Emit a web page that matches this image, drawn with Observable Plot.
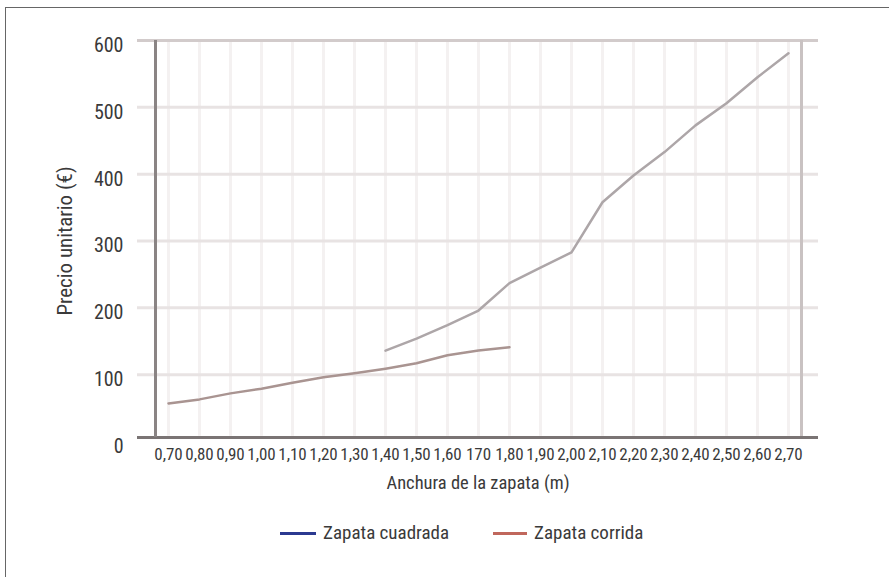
<!DOCTYPE html>
<html>
<head>
<meta charset="utf-8">
<script src="https://cdn.jsdelivr.net/npm/d3@7"></script>
<script src="https://cdn.jsdelivr.net/npm/@observablehq/plot@0.6"></script>
<style>
  html, body { margin: 0; padding: 0; background: #fff; }
  body { width: 889px; height: 577px; position: relative; overflow: hidden;
         font-family: "Liberation Sans Narrow", "Roboto Condensed", "DejaVu Sans Condensed", "Liberation Sans", sans-serif; color: #3a3a3a; }
  #box { position: absolute; left: 5px; top: 7px; right: -2px; bottom: -2px; border-left: 1px solid #666; border-top: 1px solid #666; pointer-events: none; }
  #chart svg { display: block; }
  .item { position: absolute; top: 522px; display: flex; align-items: center; font-size: 19px; white-space: nowrap; line-height: 22px; }
  .sw { display: inline-block; height: 3px; margin-right: 7px; }
</style>
</head>
<body>
<div id="chart"></div>
<div class="item" style="left:280px"><span class="sw" style="background:#2b3990;width:36px"></span>Zapata cuadrada</div>
<div class="item" style="left:493px"><span class="sw" style="background:#c0675c;width:34px"></span>Zapata corrida</div>
<div id="box"></div>
<script>
// Anchura de la zapata (m), tal como aparece en el eje
const anchos = ["0,70","0,80","0,90","1,00","1,10","1,20","1,30","1,40","1,50","1,60","170","1,80",
                "1,90","2,00","2,10","2,20","2,30","2,40","2,50","2,60","2,70"];

// Zapata cuadrada: de 1,40 a 2,70 m
const anchosCuadrada = anchos.slice(7);
const precioCuadrada = [136, 154, 174, 196, 237, 260, 283, 358, 398, 433, 473, 506, 545, 581];

// Zapata corrida: de 0,70 a 1,80 m
const anchosCorrida = anchos.slice(0, 12);
const precioCorrida = [57, 63, 72, 79, 88, 96, 102, 109, 117, 129, 136, 141];

const yTicks = [0, 100, 200, 300, 400, 500, 600];
const gridY = [100, 200, 300, 400, 500];

const font = `"Liberation Sans Narrow", "Roboto Condensed", "DejaVu Sans Condensed", "Liberation Sans", sans-serif`;

const chart = Plot.plot({
  width: 889,
  height: 510,
  marginLeft: 137,
  marginRight: 71,
  marginTop: 40,
  marginBottom: 69,
  style: { fontFamily: font, color: "#3a3a3a", background: "transparent" },
  x: { type: "point", domain: anchos, range: [150, 805] },
  y: { domain: [0, 600], range: [441, 40] },
  marks: [
    // rejilla
    Plot.ruleX(anchos, { y1: 8, y2: 600, stroke: "#f4f1f1", strokeWidth: 3 }),
    Plot.ruleY(gridY, { stroke: "#e8e3e3", strokeWidth: 3 }),
    // marco del área de trazado
    Plot.ruleY([600], { stroke: "#d2cbcb", strokeWidth: 3 }),
    Plot.ruleX([anchos[anchos.length - 1]], { y1: 6, y2: 600, dx: 13, stroke: "#c9c2c2", strokeWidth: 3 }),
    Plot.ruleY([0], { dy: -4, stroke: "#7a7474", strokeWidth: 3 }),
    Plot.ruleX([anchos[0]], { y1: 6, y2: 600, dx: -13, stroke: "#8a8484", strokeWidth: 3 }),
    // series
    Plot.line(precioCorrida, { x: (d, i) => anchosCorrida[i], y: d => d, stroke: "#a99491", strokeWidth: 2.5 }),
    Plot.line(precioCuadrada, { x: (d, i) => anchosCuadrada[i], y: d => d, stroke: "#ada6a8", strokeWidth: 2.5 }),
    // ejes
    Plot.axisY(yTicks, { tickSize: 0, tickPadding: 14, dy: 5, fontSize: 20, label: null, fill: "#3a3a3a" }),
    Plot.axisX({ tickSize: 0, tickPadding: 6, fontSize: 17, label: null, fill: "#3a3a3a" }),
    Plot.text(["Precio unitario (€)"], { frameAnchor: "left", textAnchor: "middle", rotate: -90, dx: -72, fontSize: 21, fill: "#3a3a3a" }),
    Plot.text(["Anchura de la zapata (m)"], { frameAnchor: "bottom", dy: 47, fontSize: 18.5, fill: "#3a3a3a" })
  ]
});
document.getElementById("chart").appendChild(chart);
</script>
</body>
</html>
